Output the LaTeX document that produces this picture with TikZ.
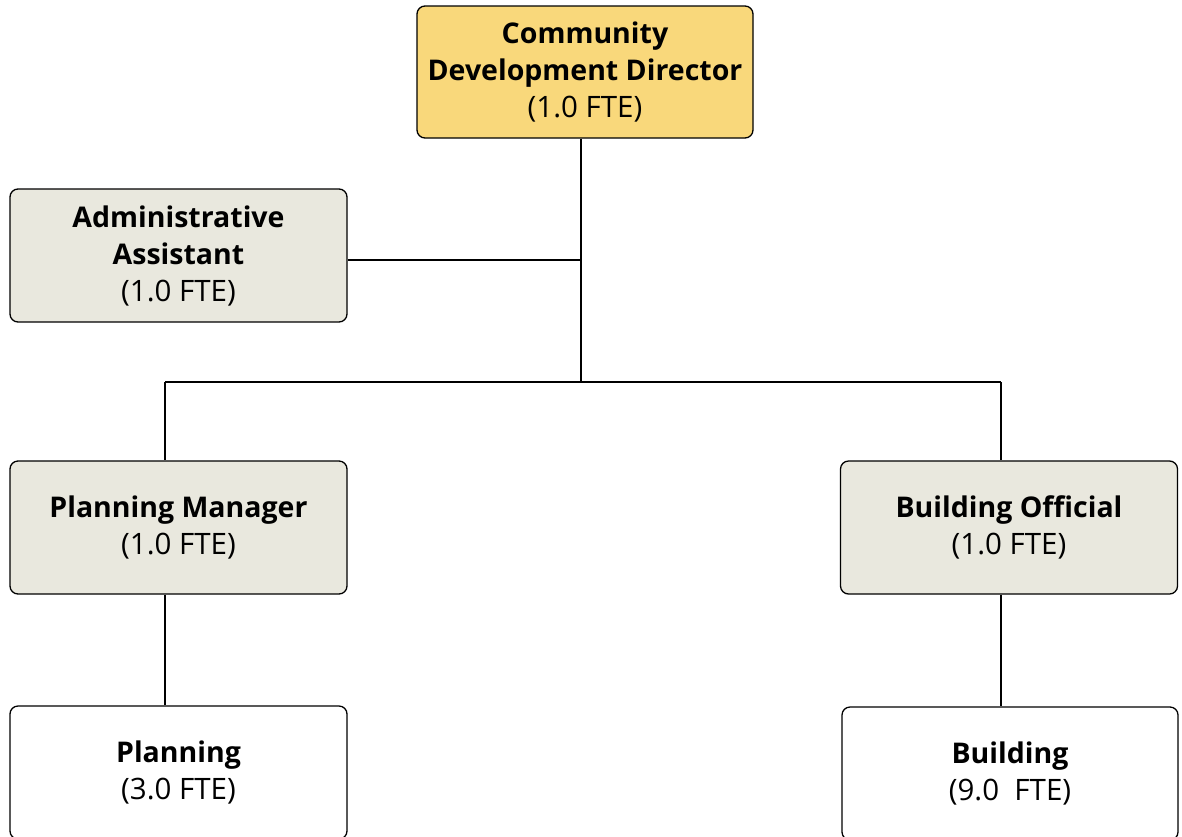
\documentclass[tikz,border=0pt]{standalone}
\usepackage{fontspec}
\setmainfont{Open Sans}
\definecolor{dirfill}{HTML}{F9D87B}
\definecolor{mgrfill}{HTML}{E9E8DE}
\newcommand{\ttl}[1]{{\fontsize{28.5}{37}\selectfont\bfseries #1}}
\newcommand{\fte}[1]{{\fontsize{29.5}{37}\selectfont #1}}
\tikzset{
  box/.style={draw=black, line width=1.3pt, rounded corners=8pt, align=center,
    minimum width=337pt, minimum height=133pt, inner sep=0pt,
    font=\fontsize{28.5}{37}\selectfont},
  link/.style={draw=black, line width=2.6pt}
}
\begin{document}
\begin{tikzpicture}[x=1pt,y=-1pt]
\useasboundingbox (0,0) rectangle (1182,836);
\clip (0,0) rectangle (1182,836);
\node[box, fill=dirfill, minimum width=336pt, minimum height=132pt] (dir) at (585,72)
  {\ttl{Community}\\\ttl{Development Director}\\\fte{(1.0 FTE)}};
\node[box, fill=mgrfill] (adm) at (178.5,255.5)
  {\ttl{Administrative}\\\ttl{Assistant}\\\fte{(1.0 FTE)}};
\node[box, fill=mgrfill] (pm) at (178.5,527.5)
  {\ttl{Planning Manager}\\\fte{(1.0 FTE)}};
\node[box, fill=mgrfill] (bo) at (1009,527.5)
  {\ttl{Building Official}\\\fte{(1.0 FTE)}};
\node[box, fill=white] (pl) at (178.5,772.5)
  {\ttl{Planning}\\\fte{(3.0 FTE)}};
\node[box, fill=white, minimum width=336pt] (bu) at (1010,773.5)
  {\ttl{Building}\\\fte{(9.0\ \ FTE)}};
\coordinate (j1) at (581,260);
\coordinate (j2) at (581,382);
\coordinate (jl) at (165,382);
\coordinate (jr) at (1001,382);
\draw[link] (dir.south -| j1) -- (j2);
\draw[link] (adm.east |- j1) -- (j1);
\draw[link] (jl) -- (jr);
\draw[link] (jl) -- (pm.north -| jl);
\draw[link] (jr) -- (bo.north -| jr);
\draw[link] (pm.south -| jl) -- (pl.north -| jl);
\draw[link] (bo.south -| jr) -- (bu.north -| jr);
\end{tikzpicture}
\end{document}
